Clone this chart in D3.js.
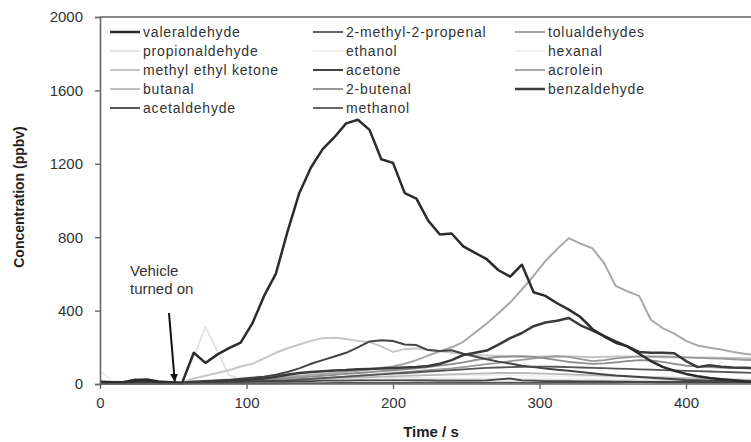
<!DOCTYPE html>
<html>
<head>
<meta charset="utf-8">
<script src="https://cdn.jsdelivr.net/npm/d3@7"></script>
<style>
  body { margin: 0; background: #fff; }
  svg { display: block; font-family: Arial, "Liberation Sans", sans-serif; }
</style>
</head>
<body>
<svg width="751" height="442"></svg>
<script>
// sample times (s)
var times = [0,8,16,24,32,40,48,56,64,72,80,88,96,104,112,120,128,136,144,152,160,168,176,184,
  192,200,208,216,224,232,240,248,256,264,272,280,288,296,304,312,320,328,336,344,352,360,368,376,
  384,392,400,408,416,424,432,440,448];

// concentrations (ppbv), one array per compound
var valeraldehyde = [12,10,10,20,24,14,10,5, 170,115,160,195,225,330,480,600, 830,1040,1180,1280,1345,1420,1440,1385,
  1225,1205,1040,1010,890,815,820,750, 715,680,620,585,650,500,480,440, 405,365,300,260,225,205,165,125,
  93,72,55,42,33,26,20,15, 12];
var methylPropenal = [3,3,3,3,3,3,3,3, 5,6,8,10,12,14,16,18, 20,24,28,32,36,40,44,48,
  52,56,60,64,68,72,76,80, 84,88,90,92,94,95,95,94, 92,90,88,86,84,82,80,78,
  76,74,72,70,68,66,64,62, 60];
var tolualdehydes = [4,4,4,4,4,4,4,4, 6,8,10,12,14,16,18,20, 22,25,28,32,36,40,45,50,
  55,60,65,70,75,80,85,92, 100,108,115,125,132,140,146,150, 148,135,125,130,140,145,150,150,
  150,148,145,142,140,138,135,132, 130];
var propionaldehyde = [15,12,10,10,10,10,10,10, 150,310,180,50,25,22,20,20, 20,20,22,22,24,24,25,25,
  25,25,25,26,26,26,26,25, 25,25,24,24,24,23,22,22, 22,21,21,20,20,20,20,20,
  19,19,19,18,18,18,18,18, 18];
var ethanol = [20,15,12,10,10,10,10,10, 15,20,22,24,25,26,28,30, 30,30,32,32,32,34,34,34,
  34,34,34,34,32,32,32,30, 30,30,30,28,28,28,28,26, 26,26,26,24,24,24,24,22,
  22,22,22,20,20,20,20,20, 20];
var hexanal = [70,20,12,10,10,10,10,10, 12,18,25,30,35,40,45,48, 50,52,54,55,56,56,56,55,
  55,54,54,53,52,52,50,50, 48,48,46,46,45,44,44,42, 42,40,40,38,38,36,36,35,
  35,34,34,33,33,32,32,31, 30];
var mek = [10,8,8,8,8,8,8,8, 30,45,60,75,95,110,140,170, 195,215,235,250,252,245,235,228,
  205,175,190,195,185,178,170,165, 158,155,152,150,148,148,150,152, 150,148,146,148,150,150,150,148,
  146,145,145,144,144,143,142,142, 140];
var acetone = [6,6,8,10,12,8,6,5, 10,14,18,22,28,34,40,50, 65,85,110,130,150,170,200,232,
  238,234,215,212,185,180,184,165, 150,135,122,112,100,92,85,78, 72,65,58,52,46,42,38,34,
  30,26,22,20,18,16,15,14, 12];
var acrolein = [5,5,5,5,5,5,5,5, 8,10,14,18,22,26,30,35, 40,45,50,55,60,65,72,80,
  88,95,110,130,155,178,200,230, 280,330,385,445,515,590,670,735, 795,765,740,660,535,505,480,350,
  305,275,235,210,198,188,175,165, 158];
var butanal = [5,5,5,5,5,5,5,5, 8,10,12,14,16,18,20,22, 24,26,28,30,32,34,36,38,
  40,42,44,46,48,50,52,54, 56,58,60,60,60,58,56,54, 52,50,48,46,44,42,40,38,
  36,34,32,30,28,26,24,22, 20];
var butenal = [5,5,5,5,5,5,5,5, 8,10,12,14,16,20,24,28, 32,36,40,45,50,55,60,65,
  70,75,80,85,92,100,108,118, 130,140,148,150,152,148,140,130, 120,115,110,112,118,125,130,128,
  120,110,100,95,92,90,88,86, 85];
var benzaldehyde = [8,8,10,12,14,10,8,6, 12,15,18,20,22,25,30,40, 50,60,65,70,74,76,80,82,
  85,87,90,93,98,110,130,158, 170,182,215,250,278,315,335,345, 360,320,292,262,232,205,175,170,
  170,168,125,92,102,94,90,88, 87];
var acetaldehyde = [8,10,12,25,22,10,8,6, 8,10,10,12,12,14,14,15, 15,16,16,18,18,18,20,20,
  20,20,20,20,20,18,18,18, 18,20,25,30,20,18,16,15, 15,14,14,14,13,13,12,12,
  12,12,11,11,10,10,10,10, 10];
var methanol = [2,2,2,2,2,2,2,2, 3,3,3,3,4,4,4,4, 5,5,5,5,6,6,6,6,
  6,6,6,7,7,7,7,7, 8,8,8,8,8,8,8,8, 8,8,8,8,8,10,12,10,
  8,8,8,8,8,8,8,8, 8];

var yTicks = [0, 400, 800, 1200, 1600, 2000];
var xTicks = [0, 100, 200, 300, 400];

// legend order (row by row, three columns) with line style
var series = [
  { name: 'valeraldehyde', values: valeraldehyde, color: '#2b2b2b', width: 2.5 },
  { name: '2-methyl-2-propenal', values: methylPropenal, color: '#555', width: 1.8 },
  { name: 'tolualdehydes', values: tolualdehydes, color: '#999', width: 1.8 },
  { name: 'propionaldehyde', values: propionaldehyde, color: '#e2e2e2', width: 1.8 },
  { name: 'ethanol', values: ethanol, color: '#ebebeb', width: 1.5 },
  { name: 'hexanal', values: hexanal, color: '#eeeeee', width: 1.5 },
  { name: 'methyl ethyl ketone', values: mek, color: '#c6c6c6', width: 2 },
  { name: 'acetone', values: acetone, color: '#444', width: 2 },
  { name: 'acrolein', values: acrolein, color: '#a8a8a8', width: 2 },
  { name: 'butanal', values: butanal, color: '#b8b8b8', width: 1.8 },
  { name: '2-butenal', values: butenal, color: '#8c8c8c', width: 1.8 },
  { name: 'benzaldehyde', values: benzaldehyde, color: '#3a3a3a', width: 2.5 },
  { name: 'acetaldehyde', values: acetaldehyde, color: '#444', width: 1.8 },
  { name: 'methanol', values: methanol, color: '#555', width: 1.8 }
];

var svg = d3.select('svg');
var plot = { l: 100, t: 17, b: 384 };

var xScale = d3.scaleLinear().domain([0, 400]).range([plot.l, 686]);
var yScale = d3.scaleLinear().domain([0, 2000]).range([plot.b, plot.t]);

// top border of the plot area
svg.append('line')
  .attr('x1', plot.l).attr('x2', 751)
  .attr('y1', plot.t).attr('y2', plot.t)
  .attr('stroke', '#8a8a8a').attr('stroke-width', 2);

// lines, light ones underneath
var line = d3.line()
  .x(function(d, i) { return xScale(times[i]); })
  .y(function(d) { return yScale(d); });

var drawOrder = series.slice().sort(function(a, b) {
  return d3.hsl(b.color).l - d3.hsl(a.color).l;
});
svg.append('g').selectAll('path')
  .data(drawOrder)
  .enter().append('path')
  .attr('d', function(d) { return line(d.values); })
  .attr('fill', 'none')
  .attr('stroke', function(d) { return d.color; })
  .attr('stroke-width', function(d) { return d.width; })
  .attr('stroke-linejoin', 'round');

// axes
var yAxis = svg.append('g')
  .attr('transform', 'translate(' + plot.l + ',0)')
  .call(d3.axisLeft(yScale).tickValues(yTicks).tickFormat(d3.format('d')).tickSize(5).tickPadding(12));
var xAxis = svg.append('g')
  .attr('transform', 'translate(0,' + plot.b + ')')
  .call(d3.axisBottom(xScale).tickValues(xTicks).tickFormat(d3.format('d')).tickSize(5).tickPadding(8));
xAxis.select('.domain').attr('d', 'M' + plot.l + ',0H751');

[yAxis, xAxis].forEach(function(ax) {
  ax.selectAll('.domain').attr('stroke', '#666').attr('stroke-width', 1.6);
  ax.selectAll('.tick line').attr('stroke', '#666').attr('stroke-width', 1.4);
  ax.selectAll('.tick text')
    .attr('fill', '#333')
    .style('font-size', '15px')
    .style('font-family', 'Arial, "Liberation Sans", sans-serif');
});

// axis titles
svg.append('text')
  .attr('transform', 'translate(24,' + 197 + ') rotate(-90)')
  .attr('text-anchor', 'middle')
  .style('font-size', '14px')
  .style('font-weight', 'bold')
  .attr('fill', '#222')
  .text('Concentration (ppbv)');

svg.append('text')
  .attr('x', 431).attr('y', 437)
  .attr('text-anchor', 'middle')
  .style('font-size', '15px')
  .style('font-weight', 'bold')
  .attr('fill', '#222')
  .text('Time / s');

// legend
var legCols = [110, 313, 515];
var legend = svg.append('g').selectAll('g')
  .data(series)
  .enter().append('g')
  .attr('transform', function(d, i) {
    return 'translate(' + legCols[i % 3] + ',' + (32 + Math.floor(i / 3) * 19) + ')';
  });
legend.append('line')
  .attr('x1', 0).attr('x2', 30)
  .attr('stroke', function(d) { return d.color; })
  .attr('stroke-width', function(d) { return d.width; });
legend.append('text')
  .attr('x', 33).attr('y', 5)
  .style('font-size', '14px')
  .style('letter-spacing', '0.8px')
  .attr('fill', '#333')
  .text(function(d) { return d.name; });

// annotation
var note = svg.append('text')
  .attr('x', 130).attr('y', 276)
  .style('font-size', '15px')
  .attr('fill', '#333');
note.append('tspan').attr('x', 130).text('Vehicle');
note.append('tspan').attr('x', 130).attr('dy', 18).text('turned on');

svg.append('defs').append('marker')
  .attr('id', 'arrow')
  .attr('viewBox', '0 0 10 10')
  .attr('refX', 9).attr('refY', 5)
  .attr('markerWidth', 4).attr('markerHeight', 4)
  .attr('orient', 'auto')
  .append('path').attr('d', 'M0,0L10,5L0,10z').attr('fill', '#111');

svg.append('line')
  .attr('x1', 169).attr('y1', 313)
  .attr('x2', xScale(51)).attr('y2', 381)
  .attr('stroke', '#111').attr('stroke-width', 2)
  .attr('marker-end', 'url(#arrow)');
</script>
</body>
</html>
